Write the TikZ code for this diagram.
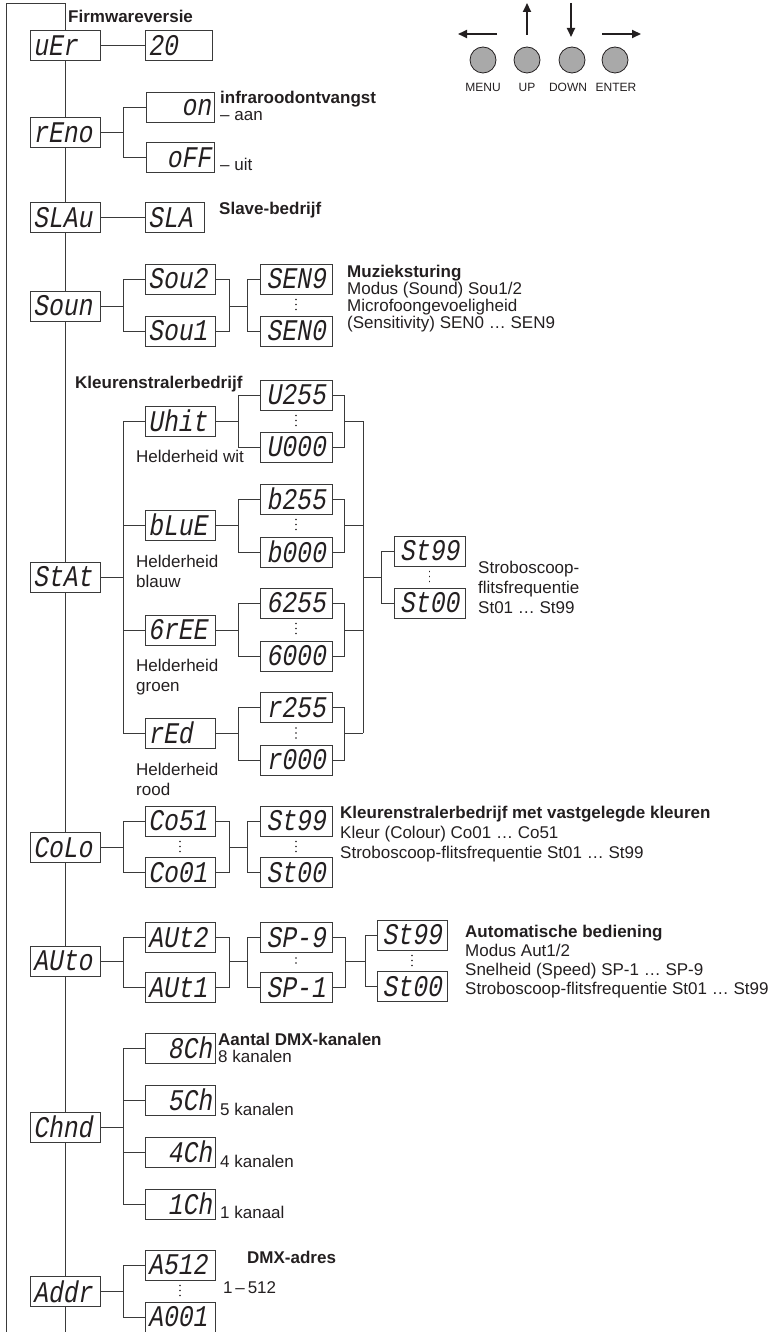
\documentclass[tikz,border=0pt]{standalone}
\usepackage{fontspec}
\setmainfont{Liberation Sans}
\newfontfamily\dispfont[FakeSlant=0.18,FakeStretch=0.82]{Liberation Mono}
\usetikzlibrary{arrows.meta}
\definecolor{ln}{HTML}{3A3A3A}
\definecolor{btnfill}{HTML}{A9A9A9}
\definecolor{txt}{HTML}{231F20}
\tikzset{
  conn/.style={draw=ln, line width=1pt},
  disp/.style={draw=ln, fill=white, line width=1pt, rectangle, inner xsep=3pt, inner ysep=0pt,
    minimum height=30pt, text width=#1, align=center, font=\dispfont\fontsize{30}{30}\selectfont, text=txt},
  disp/.default=64pt,
  dispr/.style={disp=#1, align=right},
  dispr/.default=64pt,
  displ/.style={disp=#1, align=left},
  displ/.default=64pt,
  lbl/.style={anchor=base west, inner sep=0pt, text=txt, font=\fontsize{17}{20}\selectfont},
  blbl/.style={lbl, font=\fontsize{17}{20}\selectfont\bfseries},
  dotsep/.style={draw=txt, line width=1.6pt, line cap=round, dash pattern=on 0.01pt off 5pt, shorten <=5pt, shorten >=4pt},
  btn/.style={circle, draw=txt, fill=btnfill, line width=0.8pt, minimum size=26pt, inner sep=0pt},
  btnlbl/.style={anchor=base, inner sep=0pt, text=txt, font=\fontsize{12}{14}\selectfont},
  arr/.style={draw=txt, line width=2pt, -{Triangle[length=9pt,width=8pt]}}
}
\begin{document}
\begin{tikzpicture}[x=1pt, y=-1pt]
\useasboundingbox (0,0) rectangle (773,1332);
% x-positions of branch junctions
\coordinate (xA) at (123,0);
\coordinate (xB) at (229,0);
\coordinate (xC) at (247,0);
\coordinate (xS) at (238,0);
\coordinate (xD) at (344,0);
\coordinate (xE) at (363,0);
\coordinate (xF) at (381,0);
\coordinate (xG) at (345,0);
\coordinate (xH) at (365,0);
\coordinate (tl) at (6,4);
\coordinate (tr) at (65,4);
\coordinate (bl) at (6,1334);
\coordinate (br) at (65,1334);

% main column
\node[displ] (uEr) at (65,46) {uEr};
\node[displ] (rEno) at (65,132.5) {rEno};
\node[displ] (SLAu) at (65,218) {SLAu};
\node[displ] (Soun) at (65,306) {Soun};
\node[displ] (StAt) at (65,577) {StAt};
\node[displ] (CoLo) at (65,847.5) {CoLo};
\node[displ] (AUto) at (65,961) {AUto};
\node[displ] (Chnd) at (65,1127) {Chnd};
\node[displ] (Addr) at (65,1291.5) {Addr};

% firmware
\node[displ=61pt] (v20) at (178.5,46) {20};
% infrared
\node[dispr=62pt] (on) at (180,107.5) {on};
\node[dispr=62pt] (oFF) at (180,157.5) {oFF};
% slave
\node[displ=53pt] (SLA) at (174.5,218) {SLA};
% sound
\node[displ] (Sou2) at (180,279) {Sou2};
\node[displ] (Sou1) at (180,331) {Sou1};
\node[disp=66pt] (SEN9) at (296,279) {SEN9};
\node[disp=66pt] (SEN0) at (296,331) {SEN0};
% colour spot
\node[displ] (Uhit) at (180,421) {Uhit};
\node[disp=66pt] (U255) at (296,395) {U255};
\node[disp=66pt] (U000) at (296,447) {U000};
\node[displ] (bLuE) at (180,525) {bLuE};
\node[disp=66pt] (b255) at (296,499) {b255};
\node[disp=66pt] (b000) at (296,552) {b000};
\node[displ] (GrEE) at (180,630) {6rEE};
\node[disp=66pt] (G255) at (296,603) {6255};
\node[disp=66pt] (G000) at (296,656) {6000};
\node[displ] (rEd) at (180,733) {rEd};
\node[disp=66pt] (r255) at (296,707.5) {r255};
\node[disp=66pt] (r000) at (296,760) {r000};
\node[disp=65pt] (St99a) at (429.5,551) {St99};
\node[disp=65pt] (St00a) at (429.5,603) {St00};
% fixed colours
\node[displ] (Co51) at (180,821) {Co51};
\node[displ] (Co01) at (180,872.5) {Co01};
\node[disp=66pt] (St99b) at (296,821) {St99};
\node[disp=66pt] (St00b) at (296,872.5) {St00};
% auto
\node[displ] (AUt2) at (180,937.5) {AUt2};
\node[displ] (AUt1) at (180,987.5) {AUt1};
\node[disp=66pt] (SP9) at (296,937.5) {SP-9};
\node[disp=66pt] (SP1) at (296,987.5) {SP-1};
\node[disp=64pt] (St99c) at (412,935) {St99};
\node[disp=64pt] (St00c) at (412,986.5) {St00};
% channels
\node[dispr] (C8) at (180,1048) {8Ch};
\node[dispr] (C5) at (180,1100) {5Ch};
\node[dispr] (C4) at (180,1152) {4Ch};
\node[dispr] (C1) at (180,1204) {1Ch};
% address
\node[displ] (A512) at (180,1265) {A512};
\node[displ] (A001) at (180,1317) {A001};

% trunk and outer loop
\draw[conn] (bl) -- (tl) -- (tr) -- (uEr);
\draw[conn] (uEr) -- (rEno);
\draw[conn] (rEno) -- (SLAu);
\draw[conn] (SLAu) -- (Soun);
\draw[conn] (Soun) -- (StAt);
\draw[conn] (StAt) -- (CoLo);
\draw[conn] (CoLo) -- (AUto);
\draw[conn] (AUto) -- (Chnd);
\draw[conn] (Chnd) -- (Addr);
\draw[conn] (Addr) -- (br);

% firmware
\draw[conn] (uEr) -- (v20);
% infrared
\draw[conn] (rEno.east) -- (rEno.east -| xA);
\draw[conn] (on.west) -- (on.west -| xA) -- (oFF.west -| xA) -- (oFF.west);
% slave
\draw[conn] (SLAu) -- (SLA);
% sound
\draw[conn] (Soun.east) -- (Soun.east -| xA);
\draw[conn] (Sou2.west) -- (Sou2.west -| xA) -- (Sou1.west -| xA) -- (Sou1.west);
\draw[conn] (Sou2.east) -- (Sou2.east -| xB) -- (Sou1.east -| xB) -- (Sou1.east);
\draw[conn] (xB |- Soun.east) -- (xC |- Soun.east);
\draw[conn] (SEN9.west) -- (SEN9.west -| xC) -- (SEN0.west -| xC) -- (SEN0.west);
\draw[dotsep] (SEN9.south) -- (SEN0.north);
% colour spot
\draw[conn] (StAt.east) -- (StAt.east -| xA);
\draw[conn] (Uhit.west) -- (Uhit.west -| xA) -- (rEd.west -| xA) -- (rEd.west);
\draw[conn] (bLuE.west) -- (bLuE.west -| xA);
\draw[conn] (GrEE.west) -- (GrEE.west -| xA);
\foreach \p/\a/\b in {Uhit/U255/U000, bLuE/b255/b000, GrEE/G255/G000, rEd/r255/r000}{
  \draw[conn] (\p.east) -- (\p.east -| xS);
  \draw[conn] (\a.west) -- (\a.west -| xS) -- (\b.west -| xS) -- (\b.west);
  \draw[conn] (\a.east) -- (\a.east -| xD) -- (\b.east -| xD) -- (\b.east);
  \draw[conn] (xD |- \p.east) -- (xE |- \p.east);
  \draw[dotsep] (\a.south) -- (\b.north);
}
\draw[conn] (xE |- Uhit.east) -- (xE |- rEd.east);
\draw[conn] (xE |- StAt.east) -- (xF |- StAt.east);
\draw[conn] (St99a.west) -- (St99a.west -| xF) -- (St00a.west -| xF) -- (St00a.west);
\draw[dotsep] (St99a.south) -- (St00a.north);
% fixed colours
\draw[conn] (CoLo.east) -- (CoLo.east -| xA);
\draw[conn] (Co51.west) -- (Co51.west -| xA) -- (Co01.west -| xA) -- (Co01.west);
\draw[conn] (Co51.east) -- (Co51.east -| xB) -- (Co01.east -| xB) -- (Co01.east);
\draw[conn] (xB |- CoLo.east) -- (xC |- CoLo.east);
\draw[conn] (St99b.west) -- (St99b.west -| xC) -- (St00b.west -| xC) -- (St00b.west);
\draw[dotsep] (Co51.south) -- (Co01.north);
\draw[dotsep] (St99b.south) -- (St00b.north);
% auto
\draw[conn] (AUto.east) -- (AUto.east -| xA);
\draw[conn] (AUt2.west) -- (AUt2.west -| xA) -- (AUt1.west -| xA) -- (AUt1.west);
\draw[conn] (AUt2.east) -- (AUt2.east -| xB) -- (AUt1.east -| xB) -- (AUt1.east);
\draw[conn] (xB |- AUto.east) -- (xC |- AUto.east);
\draw[conn] (SP9.west) -- (SP9.west -| xC) -- (SP1.west -| xC) -- (SP1.west);
\draw[conn] (SP9.east) -- (SP9.east -| xG) -- (SP1.east -| xG) -- (SP1.east);
\draw[conn] (xG |- AUto.east) -- (xH |- AUto.east);
\draw[conn] (St99c.west) -- (St99c.west -| xH) -- (St00c.west -| xH) -- (St00c.west);
\draw[dotsep] (SP9.south) -- (SP1.north);
\draw[dotsep] (St99c.south) -- (St00c.north);
% channels
\draw[conn] (Chnd.east) -- (Chnd.east -| xA);
\draw[conn] (C8.west) -- (C8.west -| xA) -- (C1.west -| xA) -- (C1.west);
\draw[conn] (C5.west) -- (C5.west -| xA);
\draw[conn] (C4.west) -- (C4.west -| xA);
% address
\draw[conn] (Addr.east) -- (Addr.east -| xA);
\draw[conn] (A512.west) -- (A512.west -| xA) -- (A001.west -| xA) -- (A001.west);
\draw[dotsep] (A512.south) -- (A001.north);

% labels
\node[blbl] (t1) at (68,23) {Firmwareversie};
\node[blbl] (t2) at (220,104) {infraroodontvangst};
\node[lbl] (t3) at (220,121) {– aan};
\node[lbl] (t4) at (220,171) {– uit};
\node[blbl] (t5) at (219,215) {Slave-bedrijf};
\node[blbl] (t6) at (347,277) {Muzieksturing};
\node[lbl] (t7) at (347,294) {Modus (Sound) Sou1/2};
\node[lbl] (t8) at (347,311) {Microfoongevoeligheid};
\node[lbl] (t9) at (347,328) {(Sensitivity) SEN0 … SEN9};
\node[blbl] (t10) at (75,388) {Kleurenstralerbedrijf};
\node[lbl] (t11) at (136,462) {Helderheid wit};
\node[lbl] (t12) at (136,567) {Helderheid};
\node[lbl] (t13) at (136,587) {blauw};
\node[lbl] (t14) at (136,671) {Helderheid};
\node[lbl] (t15) at (136,691) {groen};
\node[lbl] (t16) at (136,775) {Helderheid};
\node[lbl] (t17) at (136,795) {rood};
\node[lbl] (t18) at (478,573) {Stroboscoop-};
\node[lbl] (t19) at (478,593) {flitsfrequentie};
\node[lbl] (t20) at (478,613) {St01 … St99};
\node[blbl] (t21) at (340,818) {Kleurenstralerbedrijf met vastgelegde kleuren};
\node[lbl] (t22) at (340,838) {Kleur (Colour) Co01 … Co51};
\node[lbl] (t23) at (340,858) {Stroboscoop-flitsfrequentie St01 … St99};
\node[blbl] (t24) at (465,937) {Automatische bediening};
\node[lbl] (t25) at (465,956) {Modus Aut1/2};
\node[lbl] (t26) at (465,975) {Snelheid (Speed) SP-1 … SP-9};
\node[lbl] (t27) at (465,994) {Stroboscoop-flitsfrequentie St01 … St99};
\node[blbl] (t28) at (218,1045) {Aantal DMX-kanalen};
\node[lbl] (t29) at (218,1062) {8 kanalen};
\node[lbl] (t30) at (220,1115) {5 kanalen};
\node[lbl] (t31) at (220,1167) {4 kanalen};
\node[lbl] (t32) at (220,1218) {1 kanaal};
\node[blbl] (t33) at (247,1263) {DMX-adres};
\node[lbl] (t34) at (223,1293) {1\,–\,512};

% buttons
\node[btn] (menu) at (483,60) {};
\node[btn] (up) at (527,60) {};
\node[btn] (down) at (572,60) {};
\node[btn] (enter) at (615,60) {};
\node[btnlbl] (menuL) at (483,92) {MENU};
\node[btnlbl] (upL) at (527,92) {UP};
\node[btnlbl] (downL) at (568,92) {DOWN};
\node[btnlbl] (enterL) at (616,92) {ENTER};
\coordinate (aL1) at (497,34); \coordinate (aL2) at (458,34);
\coordinate (aU1) at (527,35); \coordinate (aU2) at (527,3);
\coordinate (aD1) at (571,3);  \coordinate (aD2) at (571,37);
\coordinate (aR1) at (602,34); \coordinate (aR2) at (641,34);
\draw[arr] (aL1) -- (aL2);
\draw[arr] (aU1) -- (aU2);
\draw[arr] (aD1) -- (aD2);
\draw[arr] (aR1) -- (aR2);
\end{tikzpicture}
\end{document}
